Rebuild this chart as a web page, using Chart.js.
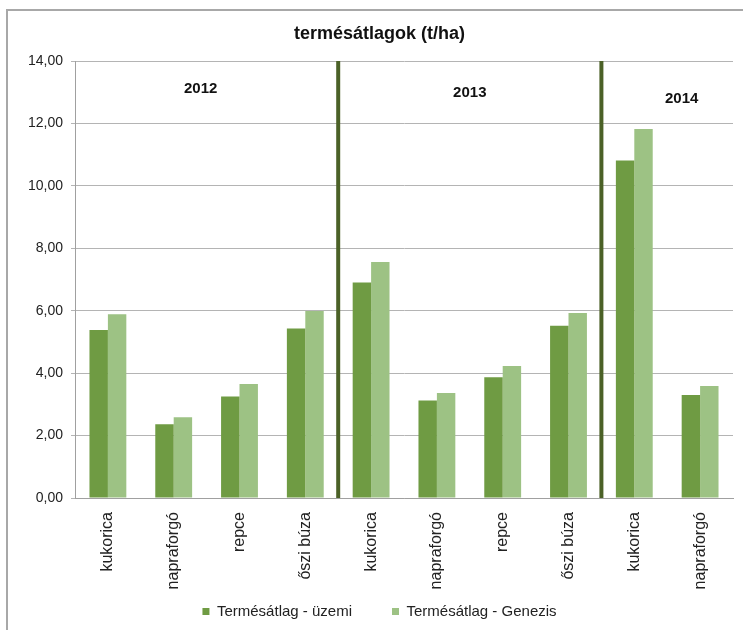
<!DOCTYPE html>
<html>
<head>
<meta charset="utf-8">
<script src="https://cdn.jsdelivr.net/npm/chart.js@4/dist/chart.umd.min.js"></script>
<style>
    html, body { margin: 0; padding: 0; background: #fff; }
    #wrap { position: relative; width: 743px; height: 630px; overflow: hidden; }
    #frame { position: absolute; left: 6px; top: 9px; width: 760px; height: 640px;
             border-left: 2px solid #a8a8a8; border-top: 2px solid #a8a8a8; }
    canvas { position: absolute; left: 0; top: 0; }
</style>
</head>
<body>
<div id="wrap">
    <div id="frame"></div>
    <canvas id="chart" width="743" height="630"></canvas>
</div>
<script>
let categories = ["kukorica", "napraforgó", "repce", "őszi búza", "kukorica", "napraforgó", "repce", "őszi búza", "kukorica", "napraforgó"];
let years = ["2012", "2013", "2014"];
let yearGroupSizes = [4, 4, 2];
let uzemi = [5.38, 2.36, 3.25, 5.43, 6.90, 3.12, 3.87, 5.52, 10.81, 3.30];
let genezis = [5.89, 2.59, 3.65, 5.99, 7.56, 3.36, 4.23, 5.93, 11.82, 3.59];
let yTicks = [0, 2, 4, 6, 8, 10, 12, 14];

const font = "'Liberation Sans', Arial, sans-serif";

// year separators + year labels
const yearPlugin = {
    id: 'years',
    afterLayout(chart) {
        // legend padding is wide for the item gap, so start its box higher
        chart.legend.top -= 28;
    },
    afterDatasetsDraw(chart) {
        const ctx = chart.ctx;
        const x = chart.scales.x;
        const y = chart.scales.y;
        const area = chart.chartArea;
        const step = (area.right - area.left) / categories.length;
        // label spots (category offset, value) tuned to the picture
        const labelSpots = [[-0.09, 13.1], [0, 12.97], [0.22, 12.78]];
        let start = 0;
        ctx.save();
        for (let i = 0; i < years.length; i++) {
            const end = start + yearGroupSizes[i];
            const mid = (x.getPixelForValue(start) + x.getPixelForValue(end - 1)) / 2 + labelSpots[i][0] * step;
            ctx.fillStyle = '#111';
            ctx.font = 'bold 15px ' + font;
            ctx.textAlign = 'center';
            ctx.textBaseline = 'middle';
            ctx.fillText(years[i], mid, y.getPixelForValue(labelSpots[i][1]));
            if (i < years.length - 1) {
                const bx = (x.getPixelForValue(end - 1) + x.getPixelForValue(end)) / 2;
                ctx.strokeStyle = '#4b6127';
                ctx.lineWidth = 4;
                ctx.beginPath();
                ctx.moveTo(bx, area.top);
                ctx.lineTo(bx, area.bottom);
                ctx.stroke();
            }
            start = end;
        }
        ctx.restore();
    }
};

new Chart(document.getElementById('chart'), {
    type: 'bar',
    data: {
        labels: categories,
        datasets: [{
            label: "Termésátlag - üzemi",
            data: uzemi,
            backgroundColor: '#6f9b43',
            categoryPercentage: 0.56,
            barPercentage: 1.0
        }, {
            label: "Termésátlag - Genezis",
            data: genezis,
            backgroundColor: '#9dc284',
            categoryPercentage: 0.56,
            barPercentage: 1.0
        }]
    },
    options: {
        responsive: false,
        animation: false,
        layout: { padding: { left: 26, right: 10, top: 0, bottom: 1 } },
        plugins: {
            title: {
                display: true,
                text: 'termésátlagok (t/ha)',
                color: '#111',
                font: { family: font, size: 18, weight: 'bold' },
                padding: { top: 23, bottom: 16.4 }
            },
            legend: {
                position: 'bottom',
                maxHeight: 37,
                labels: {
                    color: '#222',
                    font: { family: font, size: 15 },
                    boxWidth: 7,
                    boxHeight: 7,
                    padding: 40
                }
            },
            tooltip: { enabled: false }
        },
        scales: {
            x: {
                grid: { display: false },
                border: { color: '#a0a0a0', width: 1 },
                ticks: {
                    color: '#222',
                    font: { family: font, size: 16 },
                    minRotation: 90,
                    maxRotation: 90,
                    padding: 6,
                    autoSkip: false
                },
                afterFit(scale) { scale.height = 94; }
            },
            y: {
                min: 0,
                max: 14,
                afterBuildTicks(scale) { scale.ticks = yTicks.map(v => ({ value: v })); },
                grid: { color: '#b4b4b4', lineWidth: 1, tickLength: 4 },
                border: { color: '#a0a0a0', width: 1 },
                ticks: {
                    color: '#222',
                    font: { family: font, size: 14 },
                    padding: 8,
                    callback: v => v.toFixed(2).replace('.', ',')
                },
                afterFit(scale) { scale.width = 49; }
            }
        }
    },
    plugins: [yearPlugin]
});
</script>
</body>
</html>
